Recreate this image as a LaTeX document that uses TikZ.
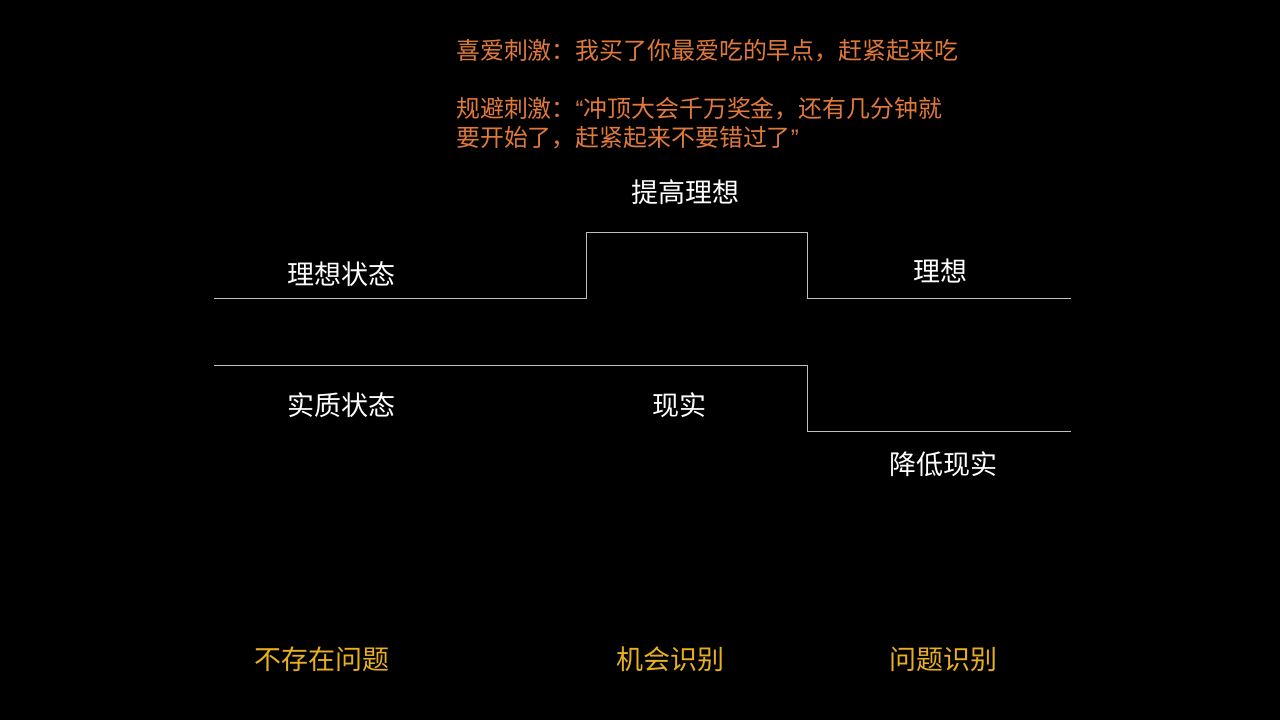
\documentclass[tikz,border=0pt]{standalone}
\usepackage{fontspec}
\setmainfont{Noto Sans CJK SC}
\newfontfamily\cjk{Noto Sans CJK SC}
\newfontfamily\latq{Liberation Sans}
\definecolor{orangetxt}{HTML}{E07A3C}
\definecolor{goldtxt}{HTML}{E8B020}
\definecolor{linegray}{HTML}{BFBFBF}
\begin{document}
\begin{tikzpicture}[x=1pt,y=-1pt,
  whitelbl/.style={text=white,font=\cjk\fontsize{27}{30}\selectfont,inner sep=0pt},
  goldlbl/.style={text=goldtxt,font=\cjk\fontsize{27}{30}\selectfont,inner sep=0pt},
  orangelbl/.style={text=orangetxt,font=\cjk\fontsize{23.9}{29}\selectfont,inner sep=0pt,anchor=west,align=left},
  stepline/.style={draw=linegray,line width=1pt}]
\fill[black] (0,0) rectangle (1280,720);
\useasboundingbox (0,0) rectangle (1280,720);
% orange quotes
\node[orangelbl] (q1) at (456,51) {喜爱刺激：我买了你最爱吃的早点，赶紧起来吃};
\node[orangelbl] (q2) at (456,109) {规避刺激：{\latq “}冲顶大会千万奖金，还有几分钟就};
\node[orangelbl] (q3) at (456,138) {要开始了，赶紧起来不要错过了{\latq ”}};
% step lines
\coordinate (u0) at (214,298);
\coordinate (u1) at (586,298);
\coordinate (u2) at (586,232);
\coordinate (u3) at (807,232);
\coordinate (u4) at (807,298);
\coordinate (u5) at (1071,298);
\draw[stepline] (u0) -- (u1) -- (u2) -- (u3) -- (u4) -- (u5);
\coordinate (l0) at (214,365);
\coordinate (l1) at (807,365);
\coordinate (l2) at (807,431);
\coordinate (l3) at (1071,431);
\draw[stepline] (l0) -- (l1) -- (l2) -- (l3);
% white labels
\node[whitelbl] (raise) at (685,192) {提高理想};
\node[whitelbl] (ideal) at (341,274) {理想状态};
\node[whitelbl] (ideal2) at (940,271) {理想};
\node[whitelbl] (real) at (341,405) {实质状态};
\node[whitelbl] (real2) at (679,405) {现实};
\node[whitelbl] (lower) at (943,464) {降低现实};
% gold labels
\node[goldlbl] (noprob) at (322,659) {不存在问题};
\node[goldlbl] (opp) at (670,659) {机会识别};
\node[goldlbl] (prob) at (943,659) {问题识别};
\end{tikzpicture}
\end{document}
